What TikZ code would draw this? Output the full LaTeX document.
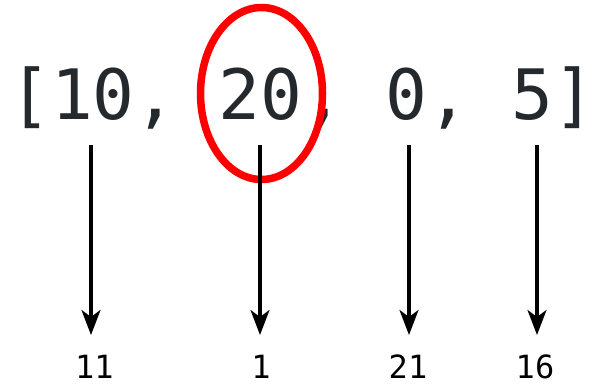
\documentclass[tikz,border=0pt]{standalone}
\usepackage{fontspec}
\newfontfamily\monofont{DejaVu Sans Mono}
\usetikzlibrary{arrows.meta}
\definecolor{codegray}{HTML}{24292E}
\tikzset{
  arr/.style={line width=3.4bp, -{Stealth[length=25bp,width=19bp,inset=7bp]}},
  lbl/.style={font=\monofont\fontsize{32bp}{32bp}\selectfont, anchor=base, inner sep=0pt},
}
\begin{document}
\begin{tikzpicture}[x=1bp,y=1bp]
\useasboundingbox[fill=white] (0,0) rectangle (597,385);
\node[anchor=base west, inner sep=0pt, text=codegray, font=\monofont\fontsize{69.5bp}{69.5bp}\selectfont] (arr) at (9,266) {[10, 20, 0, 5]};
\draw[red, line width=7.5bp] (261.5,291.5) ellipse [x radius=61, y radius=86];
\coordinate (t1) at (91,240);
\coordinate (t2) at (260,240);
\coordinate (t3) at (409,240);
\coordinate (t4) at (537,240);
\node[lbl] (l1) at (94.5,7) {11};
\node[lbl] (l2) at (261,7) {1};
\node[lbl] (l3) at (408,7) {21};
\node[lbl] (l4) at (535,7) {16};
\draw[arr] (t1) -- (91,50);
\draw[arr] (t2) -- (260,50);
\draw[arr] (t3) -- (409,50);
\draw[arr] (t4) -- (537,50);
\end{tikzpicture}
\end{document}
